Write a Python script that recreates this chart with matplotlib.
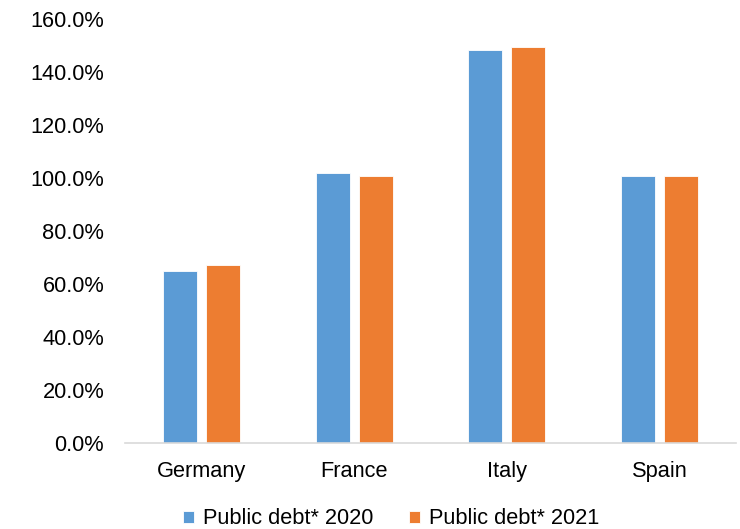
import numpy as np
import matplotlib
matplotlib.use("Agg")
import matplotlib.pyplot as plt
from matplotlib.ticker import FuncFormatter

countries = ["Germany", "France", "Italy", "Spain"]
debt_2020 = [64.8, 101.9, 148.0, 100.7]
debt_2021 = [67.0, 100.7, 149.5, 100.7]
series_labels = ["Public debt* 2020", "Public debt* 2021"]

BLUE = "#5B9BD5"
ORANGE = "#ED7D31"

plt.rcParams["font.family"] = ["Liberation Sans", "DejaVu Sans"]
plt.rcParams["font.size"] = 15.7

W, H = 740, 529
fig = plt.figure(figsize=(W / 100, H / 100), dpi=100)
# axes box in pixel terms: left 125, right 736, bottom 442.7, top (160%) ~18.7
ax = fig.add_axes([125 / W, (H - 442.7) / H, (736 - 125) / W, (442.7 - 18.7) / H])

x = np.arange(len(countries))
width = 0.222
offset = 0.141
ax.bar(x - offset, debt_2020, width, color=BLUE, edgecolor="white", linewidth=0.6,
       label=series_labels[0])
ax.bar(x + offset, debt_2021, width, color=ORANGE, edgecolor="white", linewidth=0.6,
       label=series_labels[1])

ax.set_xlim(-0.5, len(countries) - 0.5)
ax.set_ylim(0, 160)
ax.set_yticks(np.arange(0, 161, 20))
ax.yaxis.set_major_formatter(FuncFormatter(lambda v, _: f"{v:.1f}%"))
ax.set_xticks(x)
ax.set_xticklabels(countries)

for side in ["top", "right", "left"]:
    ax.spines[side].set_visible(False)
ax.spines["bottom"].set_color("#D9D9D9")
ax.spines["bottom"].set_linewidth(1.2)
ax.tick_params(axis="y", length=0, pad=15, colors="black")
ax.tick_params(axis="x", length=0, pad=13, colors="black")

fig.legend(loc="center", bbox_to_anchor=(391 / W, 10 / H), ncol=2, frameon=False,
           handlelength=0.5, handleheight=0.5, handletextpad=0.4,
           columnspacing=1.65, borderaxespad=0)

fig.savefig("out.png", dpi=100)
